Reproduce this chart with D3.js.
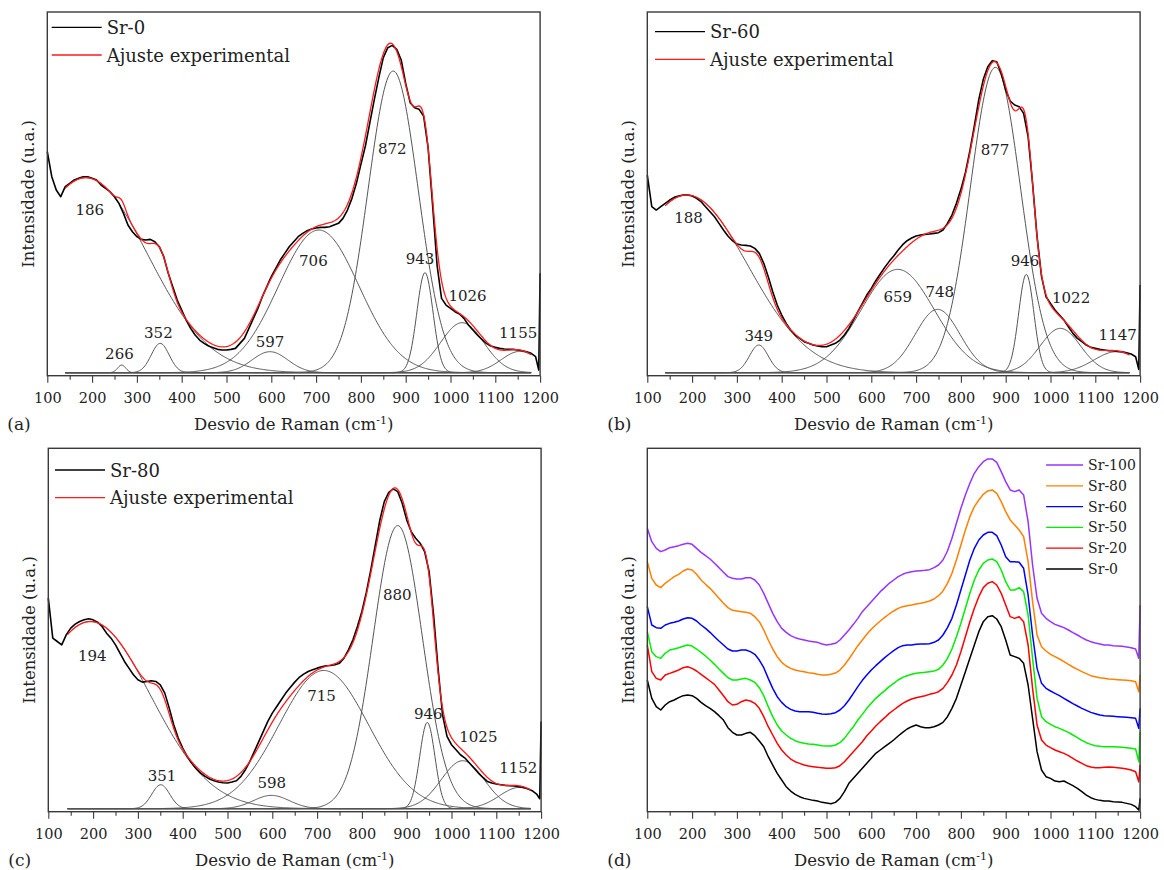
<!DOCTYPE html>
<html>
<head>
<meta charset="utf-8">
<script src="https://cdn.jsdelivr.net/npm/d3@7"></script>
<style>
  body { margin: 0; background: #fff; }
  svg { display: block; }
</style>
</head>
<body>
<svg id="chart" width="1164" height="870"></svg>
<script>
// ---------------------------------------------------------------------------
// Data
// ---------------------------------------------------------------------------
// Raman shift sampling grid (cm-1); last two samples catch the detector edge
const wavenumbers = d3.range(100, 1200, 10).concat([1197, 1200]);
const xTicks = [100, 200, 300, 400, 500, 600, 700, 800, 900, 1000, 1100, 1200];
const xMinorTicks = [150, 250, 350, 450, 550, 650, 750, 850, 950, 1050, 1150];

// Measured spectra (a.u.) for the deconvolution panels
const sr0Spectrum = [
  66.3, 58.8, 54.8, 52.8, 55.8, 56.8, 57.8, 58.3, 58.8, 58.8,
  58.3, 57.8, 56.3, 55.3, 54.3, 52.8, 50.8, 47.8, 44.3, 42.3,
  40.8, 40.0, 39.8, 40.0, 39.3, 37.8, 34.8, 29.8, 25.8, 21.8,
  18.8, 15.8, 13.3, 11.3, 9.8, 8.8, 8.0, 7.5, 7.0, 6.8,
  6.8, 7.0, 7.3, 8.8, 10.3, 13.3, 16.3, 19.3, 22.8, 25.8,
  28.8, 31.3, 33.8, 35.8, 37.8, 39.3, 40.8, 41.8, 42.6, 43.1,
  43.4, 43.6, 43.6, 43.8, 44.3, 44.8, 46.3, 48.8, 52.3, 56.8,
  62.5, 68.0, 75.0, 82.0, 88.5, 94.5, 97.5, 98.2, 97.0, 93.8,
  86.8, 81.0, 79.5, 79.0, 77.0, 67.5, 50.3, 32.3, 22.3, 20.3,
  19.3, 18.3, 17.6, 16.3, 14.3, 12.8, 11.3, 10.0, 8.8, 8.0,
  7.6, 7.3, 7.1, 7.0, 7.0, 6.8, 6.6, 6.3, 5.8, 4.8,
  0.8, 29.8
];
const sr60Spectrum = [
  59.3, 49.8, 48.8, 49.8, 50.8, 51.8, 52.6, 53.0, 53.3, 53.3,
  53.0, 52.3, 51.3, 49.8, 48.3, 46.8, 44.8, 42.8, 41.0, 39.6,
  38.6, 38.3, 38.2, 38.0, 37.3, 35.8, 32.8, 28.8, 24.3, 20.3,
  17.3, 14.8, 12.8, 11.3, 10.3, 9.3, 8.8, 8.3, 8.0, 7.8,
  7.8, 8.3, 8.8, 9.8, 11.3, 13.3, 15.8, 18.3, 20.8, 23.3,
  25.3, 27.6, 29.6, 31.6, 33.4, 35.0, 36.8, 38.4, 39.6, 40.4,
  41.0, 41.3, 41.5, 41.6, 41.8, 42.0, 42.8, 44.8, 47.3, 50.8,
  55.0, 60.0, 66.5, 74.0, 82.0, 88.0, 91.8, 93.6, 93.3, 89.8,
  84.8, 81.5, 80.3, 79.8, 77.8, 70.8, 56.8, 40.8, 28.8, 22.8,
  20.8, 18.8, 17.3, 15.8, 13.8, 11.8, 10.3, 9.3, 8.3, 7.6,
  7.3, 7.0, 6.8, 6.6, 6.6, 6.4, 6.3, 6.0, 5.6, 4.8,
  1.0, 26.3
];
const sr80Spectrum = [
  63.2, 51.2, 50.2, 49.2, 52.2, 54.2, 55.4, 56.2, 56.7, 57.0,
  56.7, 56.0, 54.7, 52.7, 51.2, 49.2, 46.7, 44.2, 42.2, 40.2,
  38.7, 38.0, 38.2, 38.4, 38.2, 37.2, 34.7, 30.2, 25.2, 21.2,
  18.2, 15.7, 13.7, 12.0, 10.7, 9.7, 8.9, 8.4, 8.0, 7.8,
  7.7, 8.0, 8.4, 9.7, 11.7, 14.2, 17.2, 20.2, 23.2, 26.2,
  28.7, 30.7, 32.7, 34.7, 36.4, 38.0, 39.4, 40.4, 41.2, 41.7,
  42.2, 42.6, 42.9, 43.0, 43.2, 43.7, 45.2, 47.7, 50.7, 54.7,
  59.2, 65.0, 71.8, 79.2, 86.6, 92.2, 95.0, 96.0, 95.2, 91.7,
  86.7, 83.2, 81.2, 79.7, 77.2, 71.2, 58.2, 42.2, 28.2, 21.7,
  19.2, 17.7, 16.2, 15.2, 13.7, 12.2, 10.7, 9.4, 8.2, 7.7,
  7.4, 7.2, 7.0, 6.9, 6.8, 6.6, 6.4, 6.0, 5.4, 4.4,
  3.0, 26.2
];

// Fitted Gaussian bands: centre (cm-1), height (a.u.), sigma (cm-1)
const sr0Centers = [186, 266, 352, 597, 706, 872, 943, 1026, 1155];
const sr0Heights = [58.5, 2.3, 8.8, 6.3, 42.8, 90.5, 30.0, 15.0, 6.4];
const sr0Sigmas  = [138, 9, 20, 40, 90, 56, 18, 48, 42];

const sr60Centers = [188, 349, 659, 748, 877, 946, 1022, 1147];
const sr60Heights = [53.3, 8.3, 31.0, 19.0, 91.6, 29.5, 13.3, 6.3];
const sr60Sigmas  = [136, 21, 82, 50, 56, 17, 45, 50];

const sr80Centers = [194, 351, 598, 715, 880, 946, 1025, 1152];
const sr80Heights = [56.2, 7.2, 4.0, 41.5, 85.0, 25.9, 14.4, 6.4];
const sr80Sigmas  = [134, 20, 40, 100, 55, 17, 48, 45];

// Stacked spectra of the whole series (a.u., offset for clarity)
const stackNames = ["Sr-100", "Sr-80", "Sr-60", "Sr-50", "Sr-20", "Sr-0"];
const stackSr100 = [
  85.0, 81.0, 79.0, 78.0, 78.5, 79.2, 79.5, 79.8, 80.2, 80.5,
  80.2, 79.0, 77.8, 76.8, 75.8, 74.5, 73.2, 71.8, 70.5, 70.0,
  69.8, 69.8, 70.2, 70.2, 69.5, 68.0, 65.5, 62.5, 59.5, 57.0,
  55.0, 53.8, 52.8, 52.2, 51.8, 51.5, 51.2, 51.0, 50.8, 50.3,
  50.0, 50.2, 50.5, 51.5, 53.0, 54.5, 56.2, 58.0, 60.0, 61.5,
  63.0, 64.5, 66.0, 67.2, 68.5, 69.5, 70.5, 71.2, 71.7, 72.0,
  72.2, 72.3, 72.4, 72.6, 73.2, 74.0, 75.5, 78.2, 82.0, 86.5,
  91.0, 95.0, 98.5, 101.5, 103.5, 105.0, 105.8, 105.8, 104.8, 102.0,
  99.0, 96.5, 96.0, 96.5, 95.0, 87.0, 74.0, 64.0, 59.5, 58.0,
  57.0, 56.2, 55.7, 55.2, 54.5, 53.7, 53.0, 52.2, 51.5, 51.0,
  50.6, 50.3, 50.0, 50.0, 49.8, 49.7, 49.6, 49.4, 49.2, 48.8,
  46.0, 62.0
];
const stackSr80 = [
  75.0, 70.0, 68.0, 67.2, 68.5, 69.5, 70.5, 71.2, 72.2, 72.8,
  72.5, 71.2, 69.5, 68.2, 67.0, 65.5, 64.0, 62.5, 61.2, 60.4,
  60.2, 60.0, 59.8, 59.5, 58.5, 57.0, 54.5, 51.5, 48.8, 46.5,
  44.8, 43.7, 43.0, 42.5, 42.2, 42.0, 41.7, 41.5, 41.2, 41.0,
  41.0, 41.2, 41.6, 42.5, 44.0, 45.8, 47.8, 49.8, 51.5, 53.2,
  54.7, 56.0, 57.2, 58.3, 59.3, 60.2, 61.0, 61.5, 61.8, 62.0,
  62.3, 62.5, 62.8, 63.2, 63.8, 64.8, 66.2, 68.5, 71.5, 75.5,
  80.0, 84.5, 88.5, 91.5, 93.5, 95.2, 96.2, 96.5, 95.5, 93.0,
  90.0, 87.5, 86.0, 84.5, 82.5, 75.0, 63.0, 53.0, 49.5, 48.2,
  47.2, 46.5, 45.8, 45.0, 44.2, 43.4, 42.7, 42.0, 41.4, 40.8,
  40.5, 40.2, 40.0, 39.8, 39.7, 39.6, 39.5, 39.4, 39.3, 39.0,
  36.0, 41.0
];
const stackSr60 = [
  61.5, 56.0, 55.2, 55.0, 56.0, 56.5, 56.8, 57.2, 57.8, 58.2,
  58.0, 57.2, 56.0, 55.0, 53.8, 52.5, 51.2, 50.0, 48.8, 48.2,
  48.2, 48.5, 48.5, 48.0, 47.2, 45.5, 43.2, 40.0, 37.0, 34.5,
  32.8, 31.5, 30.7, 30.2, 30.0, 30.0, 30.0, 29.8, 29.5, 29.3,
  29.2, 29.4, 29.7, 30.5, 31.8, 33.5, 35.5, 37.5, 39.4, 41.0,
  42.5, 43.8, 45.0, 46.2, 47.3, 48.3, 49.2, 49.8, 50.0, 50.0,
  50.2, 50.3, 50.3, 50.4, 50.8, 51.5, 53.0, 55.2, 58.0, 62.0,
  66.5, 71.0, 75.5, 79.0, 81.5, 83.0, 83.8, 83.8, 82.8, 80.0,
  76.5, 75.0, 75.0, 74.8, 73.0, 65.0, 53.0, 43.0, 38.5, 37.0,
  36.2, 35.5, 34.8, 34.0, 33.2, 32.4, 31.7, 31.0, 30.4, 29.8,
  29.4, 29.0, 28.8, 28.7, 28.6, 28.5, 28.4, 28.3, 28.2, 28.0,
  25.0, 31.0
];
const stackSr50 = [
  54.0, 48.0, 46.5, 46.0, 47.5, 48.5, 48.8, 49.2, 49.6, 50.0,
  49.7, 48.8, 47.8, 46.7, 45.5, 44.2, 42.8, 41.5, 40.2, 39.5,
  39.5, 39.8, 40.0, 39.5, 38.8, 37.2, 34.8, 31.5, 28.5, 26.0,
  24.2, 23.0, 22.0, 21.3, 20.8, 20.5, 20.3, 20.2, 20.0, 19.8,
  19.7, 19.7, 20.0, 20.7, 22.0, 23.8, 25.5, 27.5, 29.2, 31.0,
  32.5, 34.0, 35.2, 36.3, 37.5, 38.5, 39.5, 40.3, 40.8, 41.2,
  41.5, 41.7, 41.8, 42.0, 42.2, 42.7, 44.0, 46.0, 48.8, 52.5,
  56.5, 61.0, 65.5, 69.5, 72.5, 74.5, 75.5, 75.8, 75.0, 72.5,
  69.0, 66.5, 66.5, 67.2, 66.0, 59.0, 46.0, 34.0, 28.5, 27.0,
  26.2, 25.5, 25.0, 24.4, 23.8, 23.0, 22.2, 21.4, 20.7, 20.2,
  19.8, 19.6, 19.5, 19.5, 19.5, 19.4, 19.3, 19.2, 19.0, 18.8,
  15.0, 24.0
];
const stackSr20 = [
  50.0, 42.0, 40.0, 39.5, 41.0, 41.5, 42.0, 42.5, 43.2, 43.5,
  43.0, 42.2, 41.2, 40.2, 39.2, 38.2, 36.5, 34.8, 33.0, 32.0,
  32.2, 33.0, 33.5, 33.2, 32.5, 31.0, 28.5, 25.5, 23.0, 20.5,
  18.5, 17.0, 15.8, 15.0, 14.5, 14.0, 13.7, 13.5, 13.3, 13.2,
  13.0, 13.0, 13.2, 13.8, 15.0, 16.5, 18.0, 19.5, 21.0, 22.8,
  24.2, 25.7, 27.0, 28.2, 29.5, 30.5, 31.5, 32.5, 33.2, 33.8,
  34.2, 34.5, 34.8, 35.2, 35.5, 36.0, 37.0, 38.8, 41.0, 44.0,
  48.0, 52.5, 57.0, 61.0, 64.5, 67.2, 68.5, 69.0, 68.0, 65.5,
  62.0, 58.5, 58.0, 58.5, 57.0, 50.0, 37.0, 26.0, 21.5, 20.0,
  19.2, 18.5, 18.0, 17.5, 16.8, 16.0, 15.2, 14.5, 13.8, 13.4,
  13.2, 13.2, 13.3, 13.4, 13.3, 13.2, 13.0, 12.8, 12.5, 12.0,
  9.0, 14.0
];
const stackSr0 = [
  39.5, 34.0, 31.5, 30.5, 32.0, 33.0, 33.5, 34.2, 34.8, 35.0,
  34.8, 34.0, 32.8, 31.8, 31.0, 30.0, 28.8, 27.5, 25.2, 23.8,
  23.0, 23.0, 23.5, 23.8, 22.8, 21.2, 19.5, 16.5, 14.0, 11.5,
  9.5, 7.5, 6.2, 5.2, 4.5, 4.0, 3.7, 3.4, 3.2, 2.8,
  2.6, 2.4, 2.8, 4.0, 6.0, 8.5, 10.0, 11.5, 13.0, 14.5,
  16.0, 17.5, 18.5, 19.5, 20.5, 21.5, 22.7, 23.8, 24.8, 25.5,
  26.0, 25.5, 25.2, 25.2, 25.5, 26.0, 26.8, 28.5, 31.0, 34.0,
  38.0, 42.0, 46.0, 50.0, 54.0, 57.0, 58.5, 58.8, 57.8, 55.5,
  51.5, 47.0, 46.5, 46.0, 44.5, 38.0, 28.0, 18.0, 12.5, 10.5,
  10.0, 9.2, 9.0, 9.2, 8.5, 7.8, 7.0, 6.0, 5.0, 4.2,
  3.7, 3.4, 3.2, 3.2, 3.0, 2.9, 2.8, 2.5, 2.2, 1.5,
  0.5, 4.0
];
const stackColors = ["#9933ff", "#ff8000", "#0000ff", "#00ee00", "#ff0000", "#000000"];

// ---------------------------------------------------------------------------
// Layout
// ---------------------------------------------------------------------------
const SERIF = "'DejaVu Serif', 'Liberation Serif', serif";
const FRAME = "#3a3a3a";
const svg = d3.select("#chart");

const fitPanels = [
  {
    tag: "(a)", name: "Sr-0", spectrum: sr0Spectrum,
    centers: sr0Centers, heights: sr0Heights, sigmas: sr0Sigmas,
    left: 47.3, right: 540.1, top: 12, bottom: 375.7,
    fitFrom: 140, fitTo: 1180,
    legendX: 51.7, legendY: 27.3,
    labelSpots: [[195, 48.8], [261, 5.5], [348, 12.0], [597, 9.1], [694, 33.6],
                 [870, 67.0], [932, 34.0], [1038, 23.1], [1151, 12.0]]
  },
  {
    tag: "(b)", name: "Sr-60", spectrum: sr60Spectrum,
    centers: sr60Centers, heights: sr60Heights, sigmas: sr60Sigmas,
    left: 647.3, right: 1140.1, top: 12, bottom: 375.7,
    fitFrom: 140, fitTo: 1177,
    legendX: 655, legendY: 31.7,
    labelSpots: [[192, 46.3], [349, 11.0], [659, 22.8], [753, 24.3], [876, 66.8],
                 [943, 33.6], [1046, 22.3], [1150, 11.3]]
  },
  {
    tag: "(c)", name: "Sr-80", spectrum: sr80Spectrum,
    centers: sr80Centers, heights: sr80Heights, sigmas: sr80Sigmas,
    left: 48.3, right: 541.1, top: 448.3, bottom: 811.7,
    fitFrom: 143, fitTo: 1177,
    legendX: 55, legendY: 470,
    labelSpots: [[198, 45.9], [354, 9.9], [599, 7.6], [710, 33.9], [879, 64.3],
                 [948, 28.3], [1060, 21.6], [1149, 12.3]]
  }
];
const stackPanel = { tag: "(d)", left: 647.3, right: 1140.1, top: 448.3, bottom: 811.7 };

function gaussian(c, h, s) {
  return x => h * Math.exp(-((x - c) * (x - c)) / (2 * s * s));
}

function drawAxes(p, x) {
  const g = svg.append("g");
  // minor ticks
  g.append("g")
    .attr("transform", `translate(0,${p.bottom})`)
    .call(d3.axisBottom(x).tickValues(xMinorTicks).tickSize(4).tickFormat(""))
    .call(a => a.select(".domain").remove())
    .call(a => a.selectAll("line").attr("stroke", FRAME).attr("stroke-width", 1.1));
  // major ticks with labels
  g.append("g")
    .attr("transform", `translate(0,${p.bottom})`)
    .call(d3.axisBottom(x).tickValues(xTicks).tickSize(7).tickPadding(10).tickFormat(d3.format("d")))
    .call(a => a.select(".domain").remove())
    .call(a => a.selectAll("line").attr("stroke", FRAME).attr("stroke-width", 1.1))
    .call(a => a.selectAll("text")
      .attr("fill", "#222").style("font-family", SERIF).style("font-size", "14.5px"));
  // frame
  g.append("rect")
    .attr("x", p.left).attr("y", p.top)
    .attr("width", p.right - p.left).attr("height", p.bottom - p.top)
    .attr("fill", "none").attr("stroke", FRAME).attr("stroke-width", 1.4);
  // axis titles
  const xt = g.append("text")
    .attr("x", (p.left + p.right) / 2).attr("y", p.bottom + 54)
    .attr("text-anchor", "middle").attr("fill", "#222")
    .style("font-family", SERIF).style("font-size", "16.5px");
  xt.append("tspan").text("Desvio de Raman (cm");
  xt.append("tspan").attr("dy", -6).style("font-size", "11px").text("-1");
  xt.append("tspan").attr("dy", 6).text(")");
  g.append("text")
    .attr("transform", `translate(${p.left - 13.8},${(p.top + p.bottom) / 2}) rotate(-90)`)
    .attr("text-anchor", "middle").attr("fill", "#222")
    .style("font-family", SERIF).style("font-size", "16.5px")
    .text("Intensidade (u.a.)");
  g.append("text")
    .attr("x", p.left - 40).attr("y", p.bottom + 54)
    .attr("fill", "#222")
    .style("font-family", SERIF).style("font-size", "17px")
    .text(p.tag);
}

// ---------------------------------------------------------------------------
// Deconvolution panels (a), (b), (c)
// ---------------------------------------------------------------------------
fitPanels.forEach(p => {
  const x = d3.scaleLinear().domain([100, 1200]).range([p.left, p.right]);
  const y = d3.scaleLinear().domain([-0.9, 108.2]).range([p.bottom, p.top]);
  const line = d3.line().x(d => x(d[0])).y(d => y(d[1]));

  const bands = p.centers.map((c, i) => gaussian(c, p.heights[i], p.sigmas[i]));
  const fitGrid = d3.range(p.fitFrom, p.fitTo + 0.1, 2);

  const g = svg.append("g");
  // individual bands
  bands.forEach(f => {
    g.append("path")
      .attr("d", line(fitGrid.map(v => [v, f(v)])))
      .attr("fill", "none").attr("stroke", "#555").attr("stroke-width", 1);
  });
  // measured spectrum
  g.append("path")
    .attr("d", line(wavenumbers.map((w, i) => [w, p.spectrum[i]])))
    .attr("fill", "none").attr("stroke", "#000").attr("stroke-width", 1.6)
    .attr("stroke-linejoin", "round");
  // cumulative fit
  g.append("path")
    .attr("d", line(fitGrid.map(v => [v, d3.sum(bands, f => f(v))])))
    .attr("fill", "none").attr("stroke", "#ff1a1a").attr("stroke-width", 1.3);

  // band labels
  g.selectAll("text.band")
    .data(p.centers)
    .join("text")
    .attr("class", "band")
    .attr("x", (c, i) => x(p.labelSpots[i][0]))
    .attr("y", (c, i) => y(p.labelSpots[i][1]))
    .attr("text-anchor", "middle").attr("dominant-baseline", "central")
    .attr("fill", "#222")
    .style("font-family", SERIF).style("font-size", "15px")
    .text(c => c);

  // legend
  const entries = [[p.name, "#000"], ["Ajuste experimental", "#ff1a1a"]];
  entries.forEach(([label, color], i) => {
    const ly = p.legendY + i * 27.7;
    g.append("line")
      .attr("x1", p.legendX).attr("x2", p.legendX + 50)
      .attr("y1", ly).attr("y2", ly)
      .attr("stroke", color).attr("stroke-width", 1.3);
    g.append("text")
      .attr("x", p.legendX + 55).attr("y", ly + 6.5)
      .attr("fill", "#222")
      .style("font-family", SERIF).style("font-size", "18px")
      .text(label);
  });

  drawAxes(p, x);
});

// ---------------------------------------------------------------------------
// Stacked spectra panel (d)
// ---------------------------------------------------------------------------
(() => {
  const p = stackPanel;
  const x = d3.scaleLinear().domain([100, 1200]).range([p.left, p.right]);
  const y = d3.scaleLinear().domain([0, 109]).range([p.bottom, p.top]);
  const line = d3.line().x(d => x(d[0])).y(d => y(d[1]));
  const series = [stackSr100, stackSr80, stackSr60, stackSr50, stackSr20, stackSr0];

  const g = svg.append("g");
  // draw lowest first so upper traces sit on top
  series.slice().reverse().forEach((s, k) => {
    const i = series.length - 1 - k;
    g.append("path")
      .attr("d", line(wavenumbers.map((w, j) => [w, s[j]])))
      .attr("fill", "none").attr("stroke", stackColors[i]).attr("stroke-width", 1.5)
      .attr("stroke-linejoin", "round");
  });

  stackNames.forEach((name, i) => {
    const ly = p.top + 16.7 + i * 20.8;
    g.append("line")
      .attr("x1", p.right - 94).attr("x2", p.right - 57)
      .attr("y1", ly).attr("y2", ly)
      .attr("stroke", stackColors[i]).attr("stroke-width", 1.3);
    g.append("text")
      .attr("x", p.right - 52).attr("y", ly + 5)
      .attr("fill", "#222")
      .style("font-family", SERIF).style("font-size", "14px")
      .text(name);
  });

  drawAxes(p, x);
})();
</script>
</body>
</html>
